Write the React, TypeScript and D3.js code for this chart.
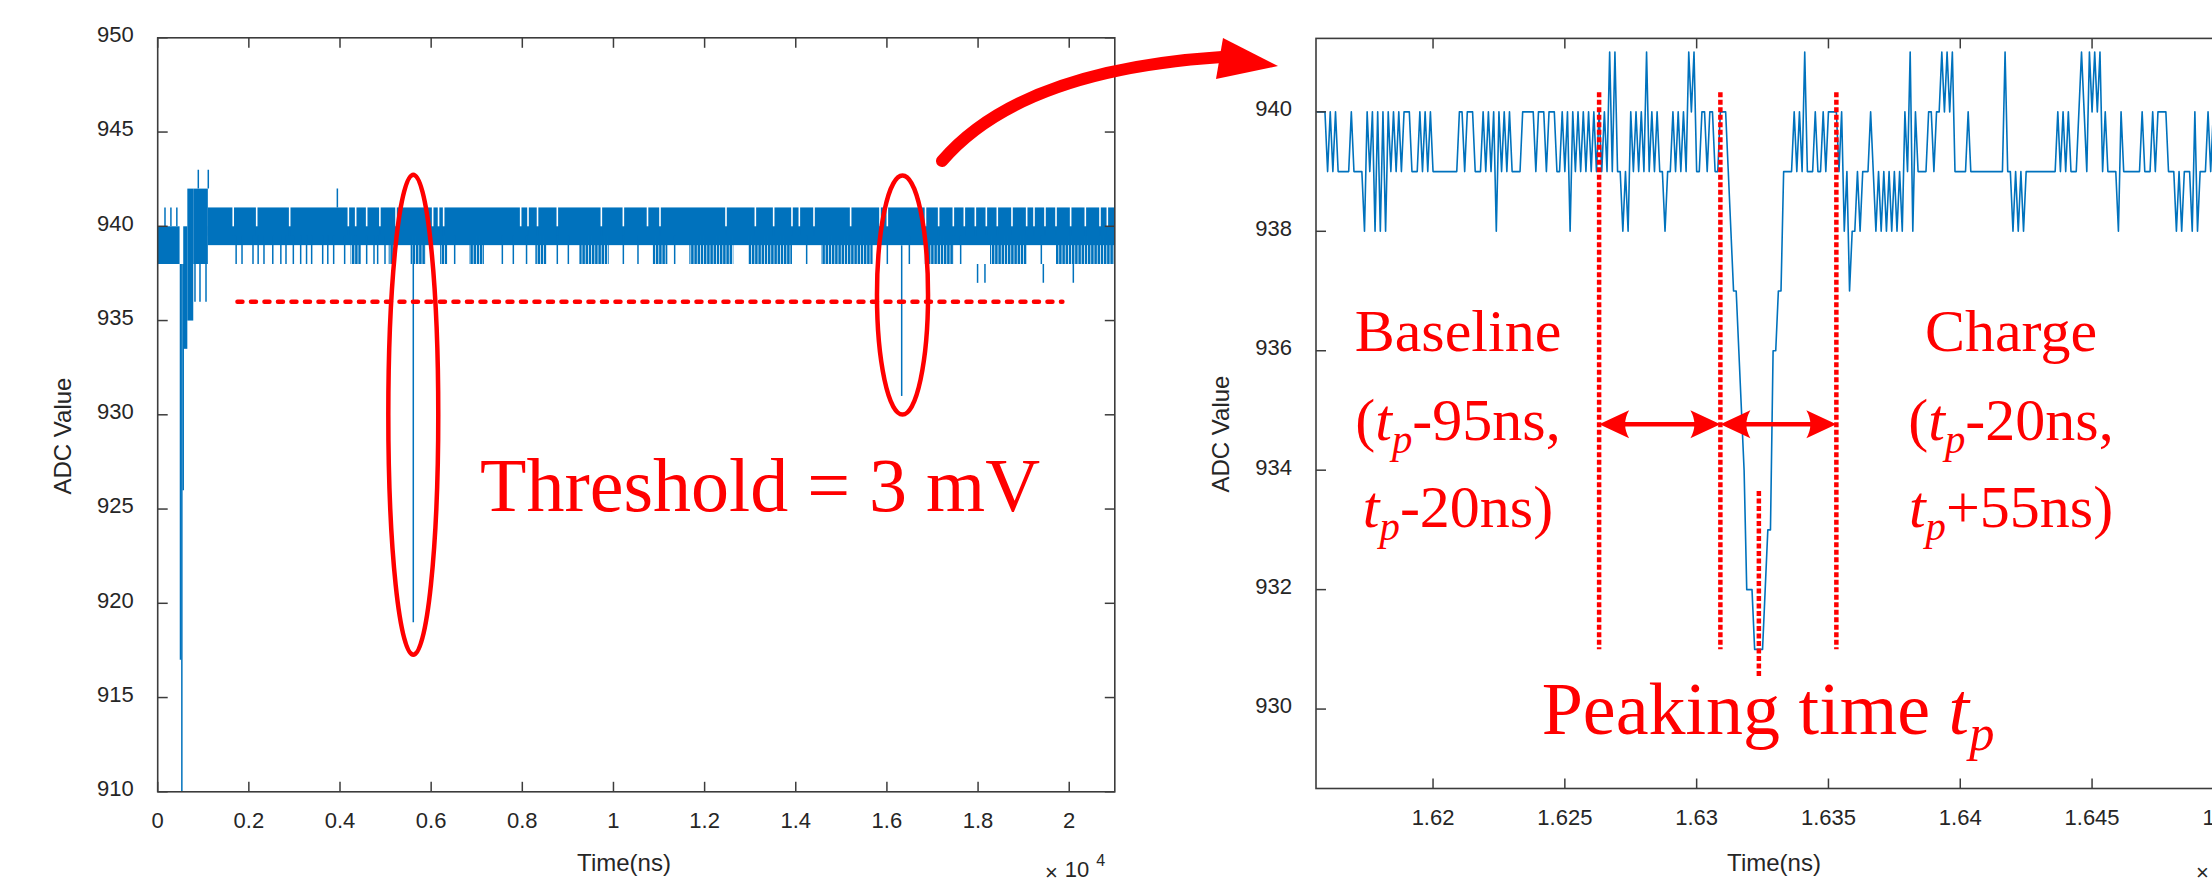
import * as d3 from 'd3';
import React, { useEffect, useRef } from 'react';

const WIDTH = 2212;
const HEIGHT = 885;

const BLUE = '#0072BD';
const RED = '#FF0000';
const AXIS = '#3c3c3c';
const TEXT = '#262626';
const SANS = '"Liberation Sans", Arial, Helvetica, sans-serif';
const SERIF = '"Liberation Serif", "Times New Roman", serif';

// ---------- left panel: the whole record ----------
const leftXTicks = [0, 2000, 4000, 6000, 8000, 10000, 12000, 14000, 16000, 18000, 20000];
const leftXLabels = ['0', '0.2', '0.4', '0.6', '0.8', '1', '1.2', '1.4', '1.6', '1.8', '2'];
const leftYTicks = [910, 915, 920, 925, 930, 935, 940, 945, 950];

const bandStart = [0, 560, 650, 780, 1100];
const bandEnd = [480, 650, 780, 1100, 21000];
const bandLow = [938, 933.5, 935, 938, 939];
const bandHigh = [940, 940, 942, 942, 940];

// upper layer 940-941 is filled except for these thin gaps (ns)
const topGapTime = [
  1657, 2172, 2896, 4183, 4344, 4585, 4875, 5229, 6033, 6162, 6274, 7964, 8125, 8334, 8768,
  9734, 10217, 10747, 11021, 12469, 13113, 13515, 13917, 14078, 14400, 15204, 15848, 16009,
  16846, 17135, 17457, 17698, 17940, 18181, 18422, 18744, 19066, 19227, 19468, 19710, 20031,
  20353, 20675, 20836,
];

// lower layer 938-939: stretches crowded with dips, and single dips (ns)
const dipSpanStart = [4231, 5068, 5550, 6194, 6838, 8286, 9251, 10860, 11665, 12952, 14561, 16813, 18262, 19710];
const dipSpanEnd = [4456, 5229, 5872, 6355, 7159, 8527, 9895, 11182, 12630, 13917, 15687, 17457, 19066, 21000];
const dipTime = [
  1721, 1850, 2091, 2204, 2332, 2525, 2702, 2815, 2976, 3137, 3266, 3378, 3620, 3732, 3861, 4102,
  4585, 4746, 4826, 4987, 6516, 7562, 7803, 8093, 8768, 9010, 10217, 10538, 11343, 14239, 16009,
  16492, 17618, 19388,
];

// isolated excursions outside the band
const spikeTime = [160, 290, 420, 500, 530, 560, 818, 891, 928, 1060, 1110, 3942, 5608, 16324, 17989, 18151, 19432, 20090];
const spikeLow = [940, 940, 940, 917, 900, 926, 936, 942, 936, 936, 942, 941, 919, 931, 937, 937, 937, 937];
const spikeHigh = [941, 941, 941, 938, 938, 938, 938, 943, 938, 938, 943, 942, 939, 939, 938, 938, 938, 938];

// ---------- right panel: zoom around the second pulse, 1 ns samples ----------
const rightXTicks = [16200, 16250, 16300, 16350, 16400, 16450, 16500];
const rightXLabels = ['1.62', '1.625', '1.63', '1.635', '1.64', '1.645', '1.65'];
const rightYTicks = [930, 932, 934, 936, 938, 940];
const rightFirstSample = 16156;
const rightValues = [
  940, 940, 940, 940, 939, 940, 939, 940, 939, 939,
  939, 939, 939, 940, 939, 939, 939, 939, 938, 940,
  939, 940, 938, 940, 938, 940, 938, 940, 939, 940,
  939, 940, 939, 940, 940, 940, 939, 939, 939, 940,
  939, 940, 939, 940, 939, 939, 939, 939, 939, 939,
  939, 939, 939, 939, 940, 940, 939, 940, 940, 940,
  939, 939, 939, 940, 939, 940, 939, 940, 938, 940,
  939, 940, 939, 940, 939, 939, 939, 939, 940, 940,
  940, 940, 940, 939, 940, 940, 940, 939, 940, 940,
  940, 939, 939, 940, 939, 940, 938, 940, 939, 940,
  939, 940, 939, 940, 939, 940, 939, 940, 939, 940,
  939, 941, 939, 941, 939, 939, 938, 939, 938, 940,
  939, 940, 939, 940, 939, 941, 939, 940, 939, 940,
  939, 939, 938, 939, 939, 940, 939, 940, 939, 940,
  939, 941, 940, 941, 939, 939, 940, 940, 939, 940,
  940, 939, 939, 940, 940, 940, 939, 938, 937, 937,
  936, 935, 934, 932, 932, 932, 931, 931, 931, 931,
  932, 933, 933, 936, 936, 937, 937, 939, 939, 939,
  939, 940, 939, 940, 939, 941, 939, 939, 939, 940,
  939, 939, 940, 939, 940, 940, 940, 940, 939, 940,
  938, 939, 937, 938, 938, 939, 938, 939, 939, 939,
  940, 939, 938, 939, 938, 939, 938, 939, 938, 939,
  938, 939, 938, 940, 939, 941, 938, 940, 939, 939,
  939, 939, 940, 940, 939, 940, 940, 941, 940, 941,
  940, 941, 939, 939, 939, 939, 939, 940, 939, 939,
  939, 939, 939, 939, 939, 939, 939, 939, 939, 939,
  939, 941, 939, 939, 938, 939, 938, 939, 938, 939,
  939, 939, 939, 939, 939, 939, 939, 939, 939, 939,
  939, 940, 939, 940, 939, 940, 939, 939, 939, 940,
  941, 940, 939, 941, 940, 941, 940, 941, 939, 940,
  939, 939, 939, 939, 938, 940, 939, 939, 939, 939,
  939, 939, 939, 940, 939, 939, 939, 940, 939, 940,
  940, 940, 940, 939, 939, 939, 938, 939, 938, 939,
  939, 939, 938, 940, 938, 939, 939, 939, 940, 939,
  940,
];

// annotation anchors, in data units
const thresholdLevel = 936;
const thresholdSpan = [1750, 19850];
const eventTimes = [5608, 16342];
const eventLevels = [930.0, 936.35];
const eventHalfT = [548, 560];
const eventHalfV = [12.73, 6.34];
const windowEdges = [16263, 16309, 16353];
const windowTop = 940.33;
const windowBottom = 931.0;
const windowArrowLevel = 934.77;
const peakTime = 16323.6;
const peakLine = [933.65, 930.55];

function drawFrame(svg, x, y, xTicks, xLabels, yTicks) {
  const [x0, x1] = x.range();
  const [yb, yt] = y.range();
  const g = svg.append('g');
  const tick = 10;

  xTicks.forEach((t, i) => {
    const px = x(t);
    g.append('line').attr('x1', px).attr('x2', px).attr('y1', yb).attr('y2', yb - tick).attr('stroke', AXIS).attr('stroke-width', 1.5);
    g.append('line').attr('x1', px).attr('x2', px).attr('y1', yt).attr('y2', yt + tick).attr('stroke', AXIS).attr('stroke-width', 1.5);
    g.append('text')
      .attr('x', px)
      .attr('y', yb + 36)
      .attr('text-anchor', 'middle')
      .attr('font-family', SANS)
      .attr('font-size', 22)
      .attr('fill', TEXT)
      .text(xLabels[i]);
  });

  yTicks.forEach((v) => {
    const py = y(v);
    g.append('line').attr('x1', x0).attr('x2', x0 + tick).attr('y1', py).attr('y2', py).attr('stroke', AXIS).attr('stroke-width', 1.5);
    g.append('line').attr('x1', x1).attr('x2', x1 - tick).attr('y1', py).attr('y2', py).attr('stroke', AXIS).attr('stroke-width', 1.5);
    g.append('text')
      .attr('x', x0 - 24)
      .attr('y', py)
      .attr('dy', '0.2em')
      .attr('text-anchor', 'end')
      .attr('font-family', SANS)
      .attr('font-size', 22)
      .attr('fill', TEXT)
      .text(v);
  });

  g.append('rect')
    .attr('x', x0)
    .attr('y', yt)
    .attr('width', x1 - x0)
    .attr('height', yb - yt)
    .attr('fill', 'none')
    .attr('stroke', AXIS)
    .attr('stroke-width', 1.6);
}

function axisTitles(svg, xTitleX, yTitleX, yTitleY, exponentX) {
  svg
    .append('text')
    .attr('x', xTitleX)
    .attr('y', 871)
    .attr('text-anchor', 'middle')
    .attr('font-family', SANS)
    .attr('font-size', 24)
    .attr('fill', TEXT)
    .text('Time(ns)');
  svg
    .append('text')
    .attr('transform', `translate(${yTitleX},${yTitleY}) rotate(-90)`)
    .attr('text-anchor', 'middle')
    .attr('font-family', SANS)
    .attr('font-size', 24)
    .attr('fill', TEXT)
    .text('ADC Value');
  const e = svg.append('text').attr('x', exponentX).attr('y', 880).attr('font-family', SANS).attr('fill', TEXT);
  e.append('tspan').attr('font-size', 22).text('\u00d7');
  e.append('tspan').attr('font-size', 22).attr('dx', 7).attr('dy', -3).text('10');
  e.append('tspan').attr('font-size', 16).attr('dx', 7).attr('dy', -11).text('4');
}

function richText(g, x, y, parts, size, anchor = 'middle') {
  const text = g
    .append('text')
    .attr('x', x)
    .attr('y', y)
    .attr('text-anchor', anchor)
    .attr('font-family', SERIF)
    .attr('font-size', size)
    .attr('fill', RED);
  let shift = 0;
  parts.forEach((p) => {
    const span = text.append('tspan').text(p.s);
    const target = p.sub ? size * 0.22 : 0;
    if (target !== shift) {
      span.attr('dy', target - shift);
      shift = target;
    }
    if (p.i) span.attr('font-style', 'italic');
    if (p.sub) span.attr('font-size', size * 0.68);
  });
}

function arrowHead(g, tipX, tipY, dir) {
  const len = 30;
  const half = 14;
  const bx = tipX - dir * len;
  const nx = tipX - dir * (len - 8);
  g.append('path')
    .attr('d', `M${tipX},${tipY} L${bx},${tipY - half} Q${nx},${tipY} ${bx},${tipY + half} Z`)
    .attr('fill', RED);
}

export default function App() {
  const svgRef = useRef(null);

  useEffect(() => {
    const svg = d3.select(svgRef.current);
    svg.selectAll('*').remove();

    // crowded 1 ns dips render as a tight comb of strokes
    svg
      .append('defs')
      .append('pattern')
      .attr('id', 'comb')
      .attr('patternUnits', 'userSpaceOnUse')
      .attr('width', 3.2)
      .attr('height', 20)
      .append('rect')
      .attr('width', 2.5)
      .attr('height', 20)
      .attr('fill', BLUE);

    // ---------------- left panel ----------------
    const xL = d3.scaleLinear().domain([0, 21000]).range([157.7, 1114.8]);
    const yL = d3.scaleLinear().domain([910, 950]).range([791.8, 37.8]);

    svg
      .append('clipPath')
      .attr('id', 'clipL')
      .append('rect')
      .attr('x', 157.7)
      .attr('y', 37.8)
      .attr('width', 1114.8 - 157.7)
      .attr('height', 791.8 - 37.8);

    const gL = svg.append('g').attr('clip-path', 'url(#clipL)');

    bandStart.forEach((s, i) => {
      gL.append('rect')
        .attr('x', xL(s))
        .attr('y', yL(bandHigh[i]))
        .attr('width', xL(bandEnd[i]) - xL(s))
        .attr('height', yL(bandLow[i]) - yL(bandHigh[i]))
        .attr('fill', BLUE);
    });

    // upper layer between gaps, overlapping the core so no seam shows
    const gapW = 1.6;
    const edges = [1100, ...topGapTime, 21000];
    for (let i = 0; i < edges.length - 1; i++) {
      const a = xL(edges[i]) + (i === 0 ? 0 : gapW / 2);
      const b = xL(edges[i + 1]) - (i === edges.length - 2 ? 0 : gapW / 2);
      gL.append('rect')
        .attr('x', a)
        .attr('y', yL(941))
        .attr('width', Math.max(0, b - a))
        .attr('height', yL(939.5) - yL(941))
        .attr('fill', BLUE);
    }

    dipSpanStart.forEach((s, i) => {
      gL.append('rect')
        .attr('x', xL(s))
        .attr('y', yL(939.5))
        .attr('width', xL(dipSpanEnd[i]) - xL(s))
        .attr('height', yL(938) - yL(939.5))
        .attr('fill', 'url(#comb)');
    });

    dipTime.forEach((t) => {
      gL.append('line')
        .attr('x1', xL(t))
        .attr('x2', xL(t))
        .attr('y1', yL(939.5))
        .attr('y2', yL(938))
        .attr('stroke', BLUE)
        .attr('stroke-width', 1.5);
    });

    spikeTime.forEach((t, i) => {
      gL.append('line')
        .attr('x1', xL(t))
        .attr('x2', xL(t))
        .attr('y1', yL(spikeHigh[i]))
        .attr('y2', yL(spikeLow[i]))
        .attr('stroke', BLUE)
        .attr('stroke-width', 1.5);
    });

    drawFrame(svg, xL, yL, leftXTicks, leftXLabels, leftYTicks);
    axisTitles(svg, 624, 71, 436, 1045);

    // ---------------- right panel ----------------
    const xR = d3.scaleLinear().domain([16155.6, 16517.5]).range([1316, 2270]);
    const yR = d3.scaleLinear().domain([928.67, 941.23]).range([788.5, 38.4]);

    svg
      .append('clipPath')
      .attr('id', 'clipR')
      .append('rect')
      .attr('x', 1316)
      .attr('y', 38.4)
      .attr('width', 2270 - 1316)
      .attr('height', 788.5 - 38.4);

    const line = d3
      .line()
      .x((d, i) => xR(rightFirstSample + i))
      .y((d) => yR(d));

    svg
      .append('g')
      .attr('clip-path', 'url(#clipR)')
      .append('path')
      .attr('d', line(rightValues))
      .attr('fill', 'none')
      .attr('stroke', BLUE)
      .attr('stroke-width', 1.6)
      .attr('stroke-linejoin', 'round');

    drawFrame(svg, xR, yR, rightXTicks, rightXLabels, rightYTicks);
    axisTitles(svg, 1774, 1229, 434, 2196);

    // ---------------- annotations ----------------
    const ann = svg.append('g');

    ann.append('line')
      .attr('x1', xL(thresholdSpan[0]))
      .attr('x2', xL(thresholdSpan[1]))
      .attr('y1', yL(thresholdLevel))
      .attr('y2', yL(thresholdLevel))
      .attr('stroke', RED)
      .attr('stroke-width', 4.5)
      .attr('stroke-dasharray', '5 8.5')
      .attr('stroke-linecap', 'round');

    eventTimes.forEach((t, i) => {
      ann.append('ellipse')
        .attr('cx', xL(t))
        .attr('cy', yL(eventLevels[i]))
        .attr('rx', xL(t + eventHalfT[i]) - xL(t))
        .attr('ry', yL(eventLevels[i] - eventHalfV[i]) - yL(eventLevels[i]))
        .attr('fill', 'none')
        .attr('stroke', RED)
        .attr('stroke-width', 4.5);
    });

    ann.append('text')
      .attr('x', 480)
      .attr('y', 511)
      .attr('font-family', SERIF)
      .attr('font-size', 76)
      .attr('fill', RED)
      .text('Threshold = 3 mV');

    // curved arrow from the second event into the zoomed panel
    ann.append('path')
      .attr('d', 'M942,161 Q1020,70 1222,57')
      .attr('fill', 'none')
      .attr('stroke', RED)
      .attr('stroke-width', 12)
      .attr('stroke-linecap', 'round');
    ann.append('path').attr('d', 'M1278,66 L1223,38 L1216,79 Z').attr('fill', RED);

    const dotted = (x, y1, y2) =>
      ann.append('line')
        .attr('x1', x)
        .attr('x2', x)
        .attr('y1', y1)
        .attr('y2', y2)
        .attr('stroke', RED)
        .attr('stroke-width', 4.5)
        .attr('stroke-dasharray', '5 2.5');

    windowEdges.forEach((t) => dotted(xR(t), yR(windowTop), yR(windowBottom)));
    dotted(xR(peakTime), yR(peakLine[0]), yR(peakLine[1]));

    const ay = yR(windowArrowLevel);
    for (let k = 0; k < 2; k++) {
      const a = xR(windowEdges[k]);
      const b = xR(windowEdges[k + 1]);
      ann.append('line')
        .attr('x1', a + 20)
        .attr('x2', b - 20)
        .attr('y1', ay)
        .attr('y2', ay)
        .attr('stroke', RED)
        .attr('stroke-width', 4.5);
      arrowHead(ann, a, ay, -1);
      arrowHead(ann, b, ay, 1);
    }

    richText(ann, 1458, 351, [{ s: 'Baseline' }], 60);
    richText(ann, 1458, 440, [{ s: '(' }, { s: 't', i: true }, { s: 'p', i: true, sub: true }, { s: '-95ns,' }], 60);
    richText(ann, 1458, 527, [{ s: 't', i: true }, { s: 'p', i: true, sub: true }, { s: '-20ns)' }], 60);
    richText(ann, 2011, 351, [{ s: 'Charge' }], 60);
    richText(ann, 2011, 440, [{ s: '(' }, { s: 't', i: true }, { s: 'p', i: true, sub: true }, { s: '-20ns,' }], 60);
    richText(ann, 2011, 527, [{ s: 't', i: true }, { s: 'p', i: true, sub: true }, { s: '+55ns)' }], 60);
    richText(ann, 1768, 734, [{ s: 'Peaking time ' }, { s: 't', i: true }, { s: 'p', i: true, sub: true }], 74);
  }, []);

  return (
    <svg
      ref={svgRef}
      width={WIDTH}
      height={HEIGHT}
      style={{ position: 'absolute', left: 0, top: 0, background: '#fff', overflow: 'hidden' }}
    ></svg>
  );
}
